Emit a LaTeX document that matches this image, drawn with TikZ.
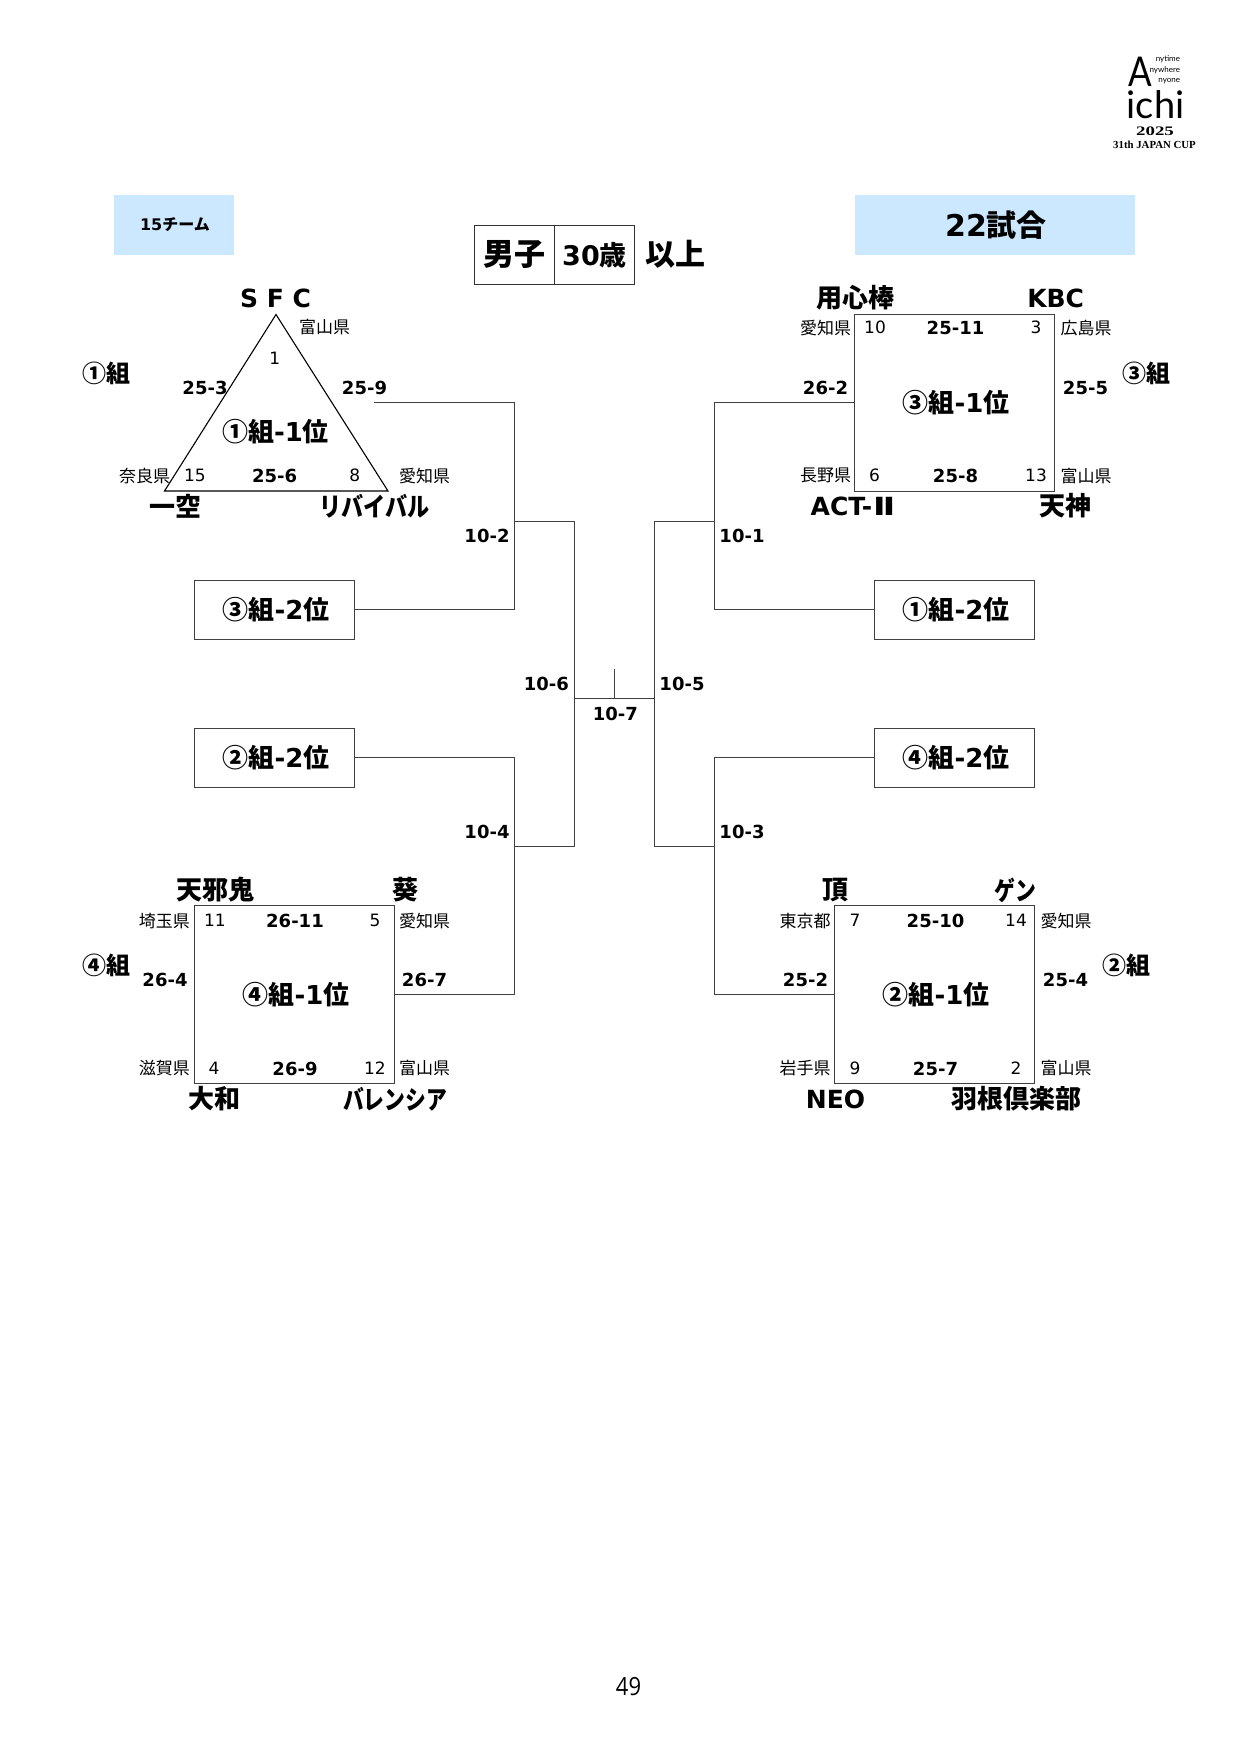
\documentclass[tikz,border=0pt]{standalone}
\usepackage{fontspec}
\setmainfont{DejaVu Sans}
\newfontfamily\cjk{Noto Sans CJK JP}
\newfontfamily\dv{DejaVu Sans}
\newfontfamily\lato{Lato}
\newfontfamily\osans{Open Sans}
\newfontfamily\tms{Liberation Serif}
\newcommand\fs[1]{\fontsize{#1}{#1}\selectfont}
\definecolor{skyfill}{RGB}{204,232,255}
\definecolor{linegrey}{RGB}{64,64,64}
\tikzset{
  txt/.style={inner sep=0pt,outer sep=0pt,text=black},
  pref/.style={txt,font=\cjk\fs{17}},
  seed/.style={txt,font=\dv\fs{17}},
  score/.style={txt,font=\dv\bfseries\fs{18}},
  team/.style={txt,font=\cjk\bfseries\fs{26}},
  teamlat/.style={txt,font=\dv\bfseries\fs{25}},
  grp/.style={txt,font=\cjk\bfseries\fs{24}},
  conn/.style={draw=linegrey,line width=1.5pt},
  bigbox/.style={conn,rectangle,inner sep=0pt,outer sep=0pt,minimum width=200pt,font=\cjk\bfseries\fs{26}},
  smallbox/.style={conn,rectangle,inner sep=0pt,outer sep=0pt,minimum width=160pt,minimum height=59pt,font=\cjk\bfseries\fs{26}},
  titlebox/.style={draw=black!80,line width=1.3pt,rectangle,inner sep=0pt,outer sep=0pt,minimum height=59pt},
  sky/.style={fill=skyfill,rectangle,inner sep=0pt,outer sep=0pt},
}
\newcommand\rk[2]{\hspace*{3pt}#1組{\dv -#2}位}
\begin{document}
\begin{tikzpicture}[x=1pt,y=-1pt]
\useasboundingbox (0,0) rectangle (1240,1754);
% header boxes
\node[sky,minimum width=120pt,minimum height=60pt] (teams) at (174,225) {\hspace*{2pt}\cjk\bfseries\fs{16}{\dv 15}チーム};
\node[sky,minimum width=280pt,minimum height=60pt] (games) at (995,225) {\hspace*{2pt}\cjk\bfseries\fs{30}{\dv 22}試合};
\node[titlebox,minimum width=80pt] (men) at (514.5,255) {\cjk\bfseries\fs{31}男子};
\node[titlebox,minimum width=80pt] (age) at (594.5,255) {\cjk\bfseries\fs{27}{\dv 30}歳};
\node[txt,font=\cjk\bfseries\fs{30}] (over) at (675,254.5) {以上};
% logo
\node[txt,font=\lato\fs{41},anchor=base] (logoA) at (1140,86) {\scalebox{.85}[1]{A}};
\node[txt,font=\lato\fs{38},anchor=base] (logoI) at (1155.5,118) {ichi};
\node[txt,font=\lato\fs{8},anchor=east] (logoa) at (1180,59) {nytime};
\node[txt,font=\lato\fs{8},anchor=east] (logob) at (1180,70) {nywhere};
\node[txt,font=\lato\fs{8},anchor=east] (logoc) at (1180,81) {nyone};
\node[txt,font=\tms\bfseries\fs{13}] (logoy) at (1155,131) {\scalebox{1.45}[1]{2025}};
\node[txt,font=\tms\bfseries\fs{10.8}] (logoj) at (1154.5,145) {31th JAPAN CUP};
% triangle
\coordinate (triA) at (276,314.5);
\coordinate (triL) at (164.5,491);
\coordinate (triR) at (388,491);
\draw[draw=black,line width=1.1pt,line join=miter] (triA) -- (triR) -- (triL) -- cycle;
\coordinate (triOut) at (374,402.5);
\node[txt,font=\cjk\bfseries\fs{26}] (rk1) at (275.5,431.7) {①組{\dv -1}位};
% group boxes
\node[bigbox,minimum height=177pt] (g3) at (954.5,403) {\rk{③}{1}};
\node[bigbox,minimum height=178pt] (g4) at (294.5,994.5) {\rk{④}{1}};
\node[bigbox,minimum height=178pt] (g2) at (934.5,994.5) {\rk{②}{1}};
% runner-up boxes
\node[smallbox] (s3) at (274.5,610) {\rk{③}{2}};
\node[smallbox] (s2) at (274.5,758) {\rk{②}{2}};
\node[smallbox] (s1) at (954.5,610) {\rk{①}{2}};
\node[smallbox] (s4) at (954.5,758) {\rk{④}{2}};
% bracket
\coordinate (jLa) at (514.5,521.5);
\coordinate (jLb) at (514.5,846.5);
\coordinate (jRa) at (714.5,521.5);
\coordinate (jRb) at (714.5,846.5);
\coordinate (jCl) at (574.5,698.5);
\coordinate (jCr) at (654.5,698.5);
\coordinate (jCm) at (614.5,698.5);
\coordinate (jTop) at (614.5,669);
\draw[conn] (triOut) -| (jLa);
\draw[conn] ([yshift=.5pt]s3.east) -| (jLa);
\draw[conn] ([yshift=.5pt]s2.east) -| (jLb);
\draw[conn] (g4.east) -| (jLb);
\draw[conn] ([yshift=.5pt]g3.west) -| (jRa);
\draw[conn] ([yshift=.5pt]s1.west) -| (jRa);
\draw[conn] ([yshift=.5pt]s4.west) -| (jRb);
\draw[conn] (g2.west) -| (jRb);
\draw[conn] (jLa) -| (jCl);
\draw[conn] (jLb) -| (jCl);
\draw[conn] (jRa) -| (jCr);
\draw[conn] (jRb) -| (jCr);
\draw[conn] (jCl) -- (jCr);
\draw[conn] (jCm) -- (jTop);
% prefectures
\foreach \n/\x/\y/\t in {
 pa/324.5/327.2/富山県, pb/144.5/475.7/奈良県, pc/424.5/475.7/愛知県,
 pd/825.5/327.7/愛知県, pe/1086/327.7/広島県, pf/825.5/475.7/長野県, pg/1086/475.7/富山県,
 ph/164.3/920.7/埼玉県, pi/424.5/920.7/愛知県, pj/164.3/1068.2/滋賀県, pk/424.5/1068.2/富山県,
 pl/805/920.7/東京都, pm/1066/920.7/愛知県, pn/805/1068.2/岩手県, po/1066/1068.2/富山県}
  \node[pref] (\n) at (\x,\y) {\t};
% seeds
\foreach \n/\x/\y/\t in {
 na/274.7/358.5/1, nb/195/475.5/15, nc/354.7/475.5/8,
 nd/875/327.5/10, ne/1036/327.5/3, nf/874.5/475.5/6, ng/1036/475.5/13,
 nh/215/920.5/11, ni/375/920.5/5, nj/214/1068.5/4, nk/375/1068.5/12,
 nl/855/920.5/7, nm/1016/920.5/14, nn/855/1068.5/9, no/1016/1068.5/2}
  \node[seed] (\n) at (\x,\y) {\t};
% scores
\foreach \n/\x/\y/\t in {
 sa/205/387.5/25-3, sb/364.5/387.5/25-9, sc/274.7/475.5/25-6,
 sd/955.5/327.5/25-11, se/825.5/387.5/26-2, sf/1085.5/387.5/25-5, sg/955.5/475.5/25-8,
 sh/295/920.5/26-11, si/165/979.5/26-4, sj/424.5/979.5/26-7, sk/295/1068.5/26-9,
 sl/935.5/920.5/25-10, sm/805.5/979.5/25-2, sn/1065.5/979.5/25-4, so/935.5/1068.5/25-7,
 ta/487/535.5/10-2, tb/742/535.5/10-1, tc/546.3/683.5/10-6, td/682/683.5/10-5,
 te/615.3/713.5/10-7, tf/487/831.5/10-4, tg/742/831.5/10-3}
  \node[score] (\n) at (\x,\y) {\t};
% team names
\foreach \n/\x/\y/\t in {
 Ta/175/506/一空, Tb/374.3/506/\scalebox{.85}[1]{リバイバル},
 Tc/855/298/用心棒, Td/1065.5/506/天神,
 Te/215/890/天邪鬼, Tf/405/890/葵, Tg/214.5/1099/大和, Th/395/1099/\scalebox{.8}[1]{バレンシア},
 Ti/835/890/頂, Tj/1015.7/890/\scalebox{.8}[1]{ゲン}, Tk/1016.5/1099/羽根倶楽部}
  \node[team] (\n) at (\x,\y) {\t};
\node[teamlat] (Tl) at (275.5,298) {S F C};
\node[teamlat] (Tm) at (1055.7,298) {KBC};
\node[teamlat] (Tn) at (835.5,1099) {NEO};
\node[teamlat] (To) at (853,506.7) {ACT-\hspace{1pt}\scalebox{1.35}[1]{Ⅱ}};
% groups
\foreach \n/\x/\y/\t in {ga/106/373/①組, gb/1146/373/③組, gc/106/965/④組, gd/1126/965/②組}
  \node[grp] (\n) at (\x,\y) {\t};
% page number
\node[txt,font=\osans\fs{25}] (page) at (628.5,1687) {\scalebox{.88}[1]{49}};
\end{tikzpicture}
\end{document}
